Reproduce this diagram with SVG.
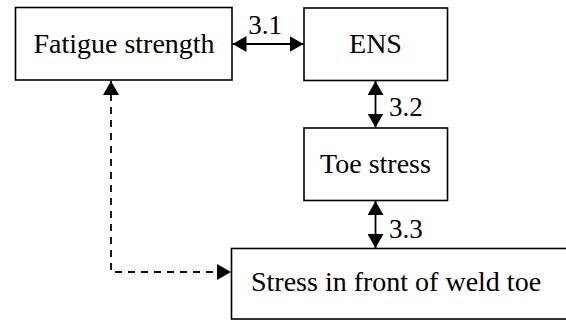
<svg xmlns="http://www.w3.org/2000/svg" width="566" height="320" viewBox="0 0 566 320">
<style>
.box{fill:#fff;stroke:#000;stroke-width:1.6}
.t{font-family:"Liberation Serif","Times New Roman",serif;font-size:28px;fill:#000}
.lab{font-family:"Liberation Serif","Times New Roman",serif;font-size:27px;fill:#000}
.c{stroke:#000;stroke-width:1.8;fill:none}
.d{stroke-dasharray:7 6}
</style>
<defs>
<marker id="ah" markerUnits="userSpaceOnUse" markerWidth="14" markerHeight="16" viewBox="0 0 14 16" refX="14" refY="8" orient="auto-start-reverse">
<path d="M0,0 L14,8 L0,16 Z" fill="#000"/>
</marker>
</defs>
<g id="fatigue"><rect class="box" x="15.5" y="7.5" width="216.5" height="72.5"/><text class="t" x="124" y="52.5" text-anchor="middle">Fatigue strength</text></g>
<g id="ens"><rect class="box" x="304" y="8" width="143.5" height="72.5"/><text class="t" x="375.5" y="52.5" text-anchor="middle">ENS</text></g>
<g id="toe"><rect class="box" x="304" y="128" width="143.5" height="72.5"/><text class="t" x="375.5" y="172.5" text-anchor="middle">Toe stress</text></g>
<g id="front"><rect class="box" x="231.5" y="248.5" width="400" height="70.5"/><text class="t" x="251" y="290.5">Stress in front of weld toe</text></g>
<g id="connectors">
<line class="c" x1="232.5" y1="44" x2="303.5" y2="44" marker-start="url(#ah)" marker-end="url(#ah)"/>
<text class="lab" x="265" y="33.5" text-anchor="middle">3.1</text>
<line class="c" x1="375.5" y1="81" x2="375.5" y2="127.5" marker-start="url(#ah)" marker-end="url(#ah)"/>
<text class="lab" x="389" y="116">3.2</text>
<line class="c" x1="375.5" y1="201" x2="375.5" y2="248" marker-start="url(#ah)" marker-end="url(#ah)"/>
<text class="lab" x="389" y="237.5">3.3</text>
<path class="c d" d="M111,81 L111,272 L231,272" marker-start="url(#ah)" marker-end="url(#ah)"/>
</g>
</svg>
